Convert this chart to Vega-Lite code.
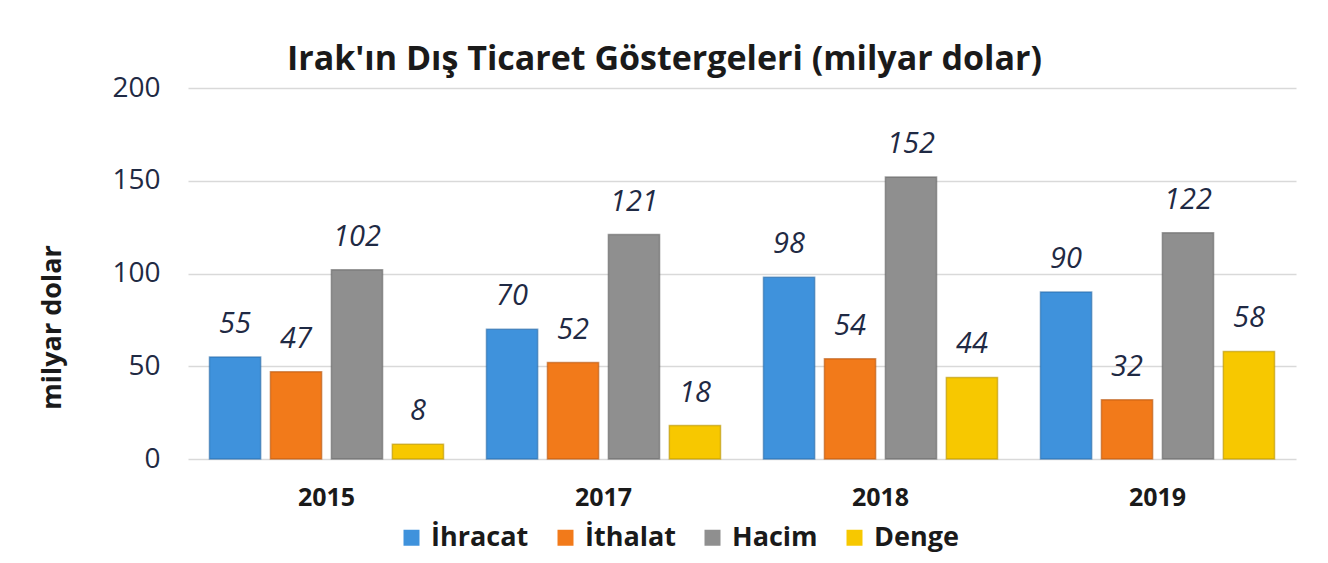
{
  "$schema": "https://vega.github.io/schema/vega-lite/v6.json",
  "width": 1108,
  "height": 371,
  "autosize": {"type": "none"},
  "padding": {"left": 188, "top": 88, "right": 32, "bottom": 104},
  "background": "white",
  "config": {"view": {"stroke": null}, "font": "Open Sans"},
  "title": {
    "text": "Irak'ın Dış Ticaret Göstergeleri (milyar dolar)",
    "font": "Open Sans",
    "fontSize": 34,
    "fontWeight": "bold",
    "color": "#1a1a1a",
    "anchor": "start",
    "frame": "group",
    "dx": 99,
    "offset": -3
  },
  "data": {
    "values": [
      {"yil": "2015", "gosterge": "İhracat", "deger": 55},
      {"yil": "2015", "gosterge": "İthalat", "deger": 47},
      {"yil": "2015", "gosterge": "Hacim", "deger": 102},
      {"yil": "2015", "gosterge": "Denge", "deger": 8},
      {"yil": "2017", "gosterge": "İhracat", "deger": 70},
      {"yil": "2017", "gosterge": "İthalat", "deger": 52},
      {"yil": "2017", "gosterge": "Hacim", "deger": 121},
      {"yil": "2017", "gosterge": "Denge", "deger": 18},
      {"yil": "2018", "gosterge": "İhracat", "deger": 98},
      {"yil": "2018", "gosterge": "İthalat", "deger": 54},
      {"yil": "2018", "gosterge": "Hacim", "deger": 152},
      {"yil": "2018", "gosterge": "Denge", "deger": 44},
      {"yil": "2019", "gosterge": "İhracat", "deger": 90},
      {"yil": "2019", "gosterge": "İthalat", "deger": 32},
      {"yil": "2019", "gosterge": "Hacim", "deger": 122},
      {"yil": "2019", "gosterge": "Denge", "deger": 58}
    ]
  },
  "encoding": {
    "x": {
      "field": "yil",
      "type": "nominal",
      "scale": {"paddingInner": 0.155, "paddingOuter": 0.0775},
      "axis": {
        "title": null,
        "labelAngle": 0,
        "labelFont": "Open Sans",
        "labelFontSize": 25,
        "labelFontWeight": "bold",
        "labelColor": "#1a1a1a",
        "labelPadding": 26,
        "ticks": false,
        "domain": false
      }
    },
    "xOffset": {
      "field": "gosterge",
      "type": "nominal",
      "sort": ["İhracat", "İthalat", "Hacim", "Denge"],
      "scale": {"paddingInner": 0.16, "paddingOuter": 0}
    },
    "y": {
      "field": "deger",
      "type": "quantitative",
      "scale": {"domain": [0, 200]},
      "axis": {
        "values": [0, 50, 100, 150, 200],
        "title": "milyar dolar",
        "titleFont": "Open Sans",
        "titleFontSize": 27,
        "titleFontWeight": "bold",
        "titleColor": "#1a1a1a",
        "titleAngle": -90,
        "titleX": -136,
        "titleY": 239,
        "titleAlign": "center",
        "titleBaseline": "middle",
        "labelFont": "Open Sans",
        "labelFontSize": 28,
        "labelColor": "#1f2a44",
        "labelPadding": 28,
        "ticks": false,
        "domain": false,
        "gridColor": "#d9d9d9",
        "gridWidth": 1.5
      }
    }
  },
  "layer": [
    {
      "mark": {"type": "bar", "strokeWidth": 1.5, "strokeOpacity": 0.6},
      "encoding": {
        "color": {
          "field": "gosterge",
          "type": "nominal",
          "sort": ["İhracat", "İthalat", "Hacim", "Denge"],
          "scale": {
            "domain": ["İhracat", "İthalat", "Hacim", "Denge"],
            "range": ["#3f92dc", "#f27a1a", "#8f8f8f", "#f7c800"]
          },
          "legend": {
            "title": null,
            "orient": "none",
            "direction": "horizontal",
            "legendX": 210,
            "legendY": 436,
            "symbolType": "square",
            "symbolSize": 256,
            "symbolStrokeWidth": 0,
            "labelFont": "Open Sans",
            "labelFontSize": 27,
            "labelFontWeight": "bold",
            "labelColor": "#1a1a1a",
            "labelOffset": 6,
            "columnPadding": 23
          }
        },
        "stroke": {
          "field": "gosterge",
          "type": "nominal",
          "scale": {
            "domain": ["İhracat", "İthalat", "Hacim", "Denge"],
            "range": ["#2a6aa8", "#b5550e", "#666666", "#b89200"]
          },
          "legend": null
        }
      }
    },
    {
      "mark": {
        "type": "text",
        "baseline": "alphabetic",
        "dy": -24,
        "font": "Open Sans",
        "fontSize": 29,
        "fontStyle": "italic",
        "color": "#1f2a44"
      },
      "encoding": {"text": {"field": "deger", "type": "quantitative"}}
    }
  ]
}
